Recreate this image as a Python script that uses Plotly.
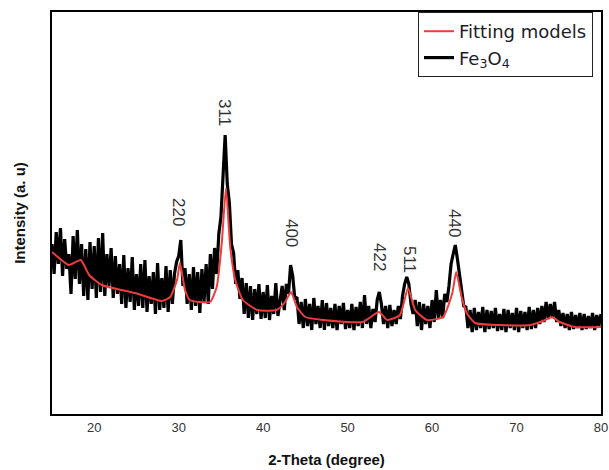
import numpy as np
import plotly.graph_objects as go

# ---- data (intensity in arbitrary units) ----
two_theta_start = 15.0
two_theta_step = 0.25
fe3o4_intensity = [
    170, 140, 182, 150,
    186, 138, 175, 145,
    160, 120, 178, 135,
    184, 130, 170, 118,
    165, 114, 172, 125,
    168, 116, 176, 122,
    181, 118, 160, 128,
    166, 116, 158, 120,
    150, 110, 159, 106,
    146, 112, 157, 104,
    140, 108, 150, 106,
    154, 102, 138, 110,
    142, 100, 151, 104,
    136, 106, 148, 102,
    144, 110, 140, 152,
    158, 174, 128, 146,
    110, 140, 104, 147,
    108, 142, 101, 145,
    112, 150, 110, 160,
    125, 166, 140, 180,
    197, 240, 279, 230,
    211, 170, 161, 130,
    144, 115, 136, 100,
    131, 96, 128, 94,
    125, 100, 130, 95,
    122, 96, 129, 94,
    118, 100, 131, 98,
    112, 128, 104, 130,
    120, 149, 138, 115,
    117, 90, 112, 86,
    115, 88, 110, 84,
    116, 90, 108, 86,
    114, 84, 111, 88,
    106, 86, 110, 84,
    108, 90, 111, 85,
    104, 86, 110, 84,
    107, 88, 112, 86,
    119, 90, 108, 86,
    105, 92, 114, 122,
    110, 90, 108, 86,
    109, 88, 104, 90,
    108, 95, 118, 130,
    137, 130, 110, 100,
    114, 88, 112, 84,
    110, 90, 108, 86,
    114, 92, 124, 96,
    114, 96, 120, 112,
    128, 150, 160, 169,
    155, 140, 120, 108,
    107, 86, 104, 82,
    106, 84, 102, 86,
    107, 82, 104, 85,
    103, 86, 106, 83,
    100, 84, 105, 82,
    104, 86, 101, 84,
    106, 82, 103, 86,
    102, 84, 107, 85,
    104, 86, 106, 90,
    108, 92, 112, 95,
    110, 96, 112, 92,
    104, 88, 101, 86,
    100, 84, 102, 85,
    99, 86, 101, 84,
    100, 85, 98, 86,
    101, 84, 99, 88,
    100,
]
fe3o4_two_theta = [two_theta_start + i * two_theta_step for i in range(len(fe3o4_intensity))]

fit_two_theta = [15.0, 17.0, 18.4, 19.4, 20.9, 24.8, 28.0, 29.0, 29.8, 30.15, 30.75, 31.3,
                 33.7, 34.5, 35.1, 35.6, 36.1, 36.7, 37.6, 39.3, 41.6, 42.6, 43.3, 44.0,
                 45.0, 47.1, 51.8, 53.7, 54.7, 56.2, 57.15, 58.0, 59.4, 61.3, 62.4, 62.85,
                 63.5, 64.1, 65.1, 68.0, 71.6, 73.4, 74.2, 75.1, 76.9, 80.0]
fit_intensity = [162, 149, 154, 139, 129, 121, 113, 117, 134, 151, 124, 114,
                 112, 127, 171, 226, 167, 134, 114, 104, 104, 112, 122, 107,
                 97, 94, 92, 102, 94, 99, 126, 104, 94, 97, 121, 142,
                 117, 101, 91, 89, 89, 94, 97, 92, 87, 87]

peak_labels = ["220", "311", "400", "422", "511", "440"]
peak_label_x = [30.04, 35.48, 43.42, 53.83, 57.39, 62.71]
peak_label_y = [202, 301, 181, 157, 155, 191]

x_ticks = [20, 30, 40, 50, 60, 70, 80]

fig = go.Figure()
fig.add_trace(go.Scatter(
    x=fe3o4_two_theta, y=fe3o4_intensity, mode="lines",
    name="Fe<sub>3</sub>O<sub>4</sub>",
    line=dict(color="black", width=3.2),
))
fig.add_trace(go.Scatter(
    x=fit_two_theta, y=fit_intensity, mode="lines",
    name="Fitting models",
    line=dict(color="#ee3b3b", width=2, shape="spline", smoothing=0.5),
))

for lab, lx, ly in zip(peak_labels, peak_label_x, peak_label_y):
    fig.add_annotation(x=lx, y=ly, text=lab, showarrow=False, textangle=90,
                       font=dict(family="Liberation Sans, Arial", size=17, color="#333333"))

fig.update_layout(
    width=609, height=470,
    margin=dict(l=52, r=8, t=12, b=56, autoexpand=False),
    paper_bgcolor="white", plot_bgcolor="white",
    font=dict(family="Liberation Sans, Arial", color="#333333"),
    showlegend=True,
    legend=dict(
        x=0.9854, xanchor="right", y=1.0, yanchor="top",
        traceorder="reversed",
        bordercolor="#222222", borderwidth=1, bgcolor="white",
        font=dict(family="DejaVu Sans", size=18, color="#1c1c2c"),
        itemwidth=30, tracegroupgap=0,
    ),
)
fig.update_xaxes(
    range=[15, 80], tickvals=x_ticks, ticks="", showgrid=False, zeroline=False,
    showline=True, linecolor="black", linewidth=2, mirror=True, automargin=False,
    tickfont=dict(size=13, color="#333333"),
    title=dict(text="<b>2-Theta (degree)</b>", font=dict(size=15, color="#111111"), standoff=21),
)
fig.update_yaxes(
    range=[0, 402], showticklabels=False, ticks="", showgrid=False, zeroline=False,
    showline=True, linecolor="black", linewidth=2, mirror=True, automargin=False,
    title=dict(text="<b>Intensity (a. u)</b>", font=dict(size=15, color="#111111"), standoff=21),
)

fig.write_html("out.html", config={"displayModeBar": False},
               post_script="document.body.style.margin='0';document.body.style.padding='0';")
